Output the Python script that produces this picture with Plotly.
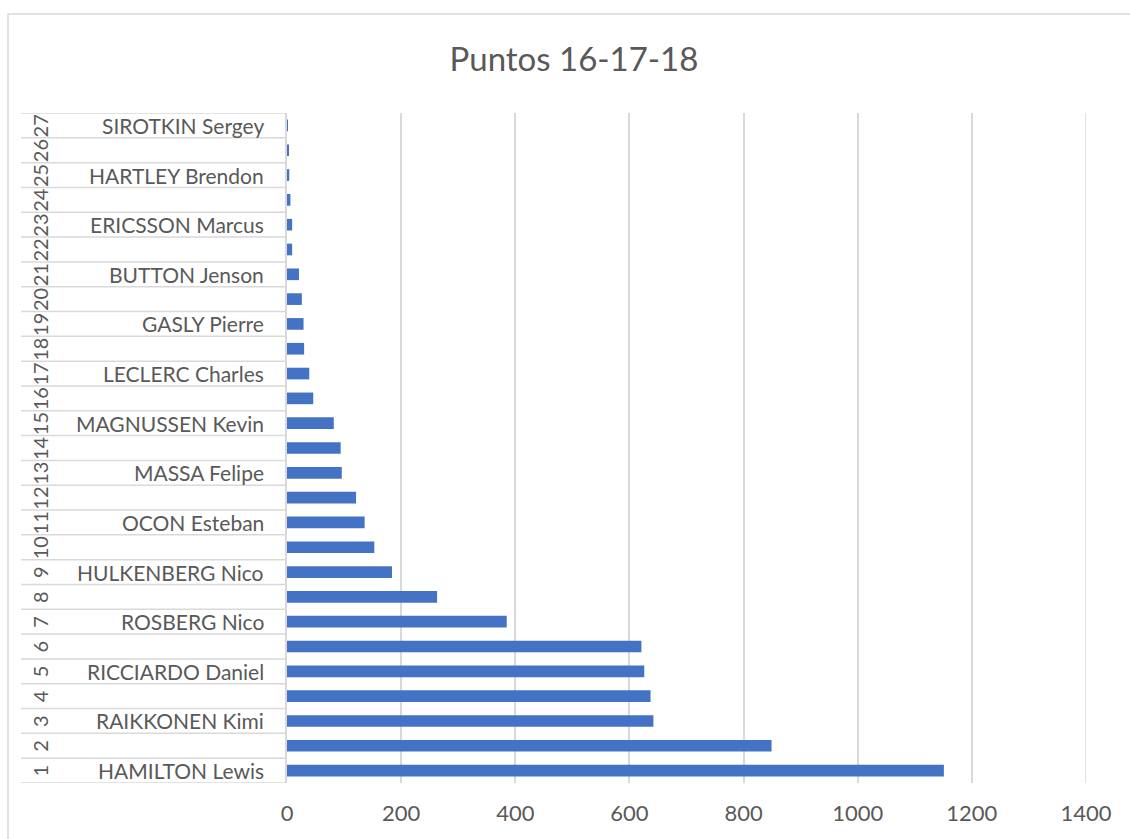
import plotly.graph_objects as go

# Championship points 2016-2018, drivers ordered by rank
ranks = list(range(1, 28))
drivers = [
    "HAMILTON Lewis", "VETTEL Sebastian", "RAIKKONEN Kimi", "BOTTAS Valtteri",
    "RICCIARDO Daniel", "VERSTAPPEN Max", "ROSBERG Nico", "PEREZ Sergio",
    "HULKENBERG Nico", "SAINZ Carlos", "OCON Esteban", "ALONSO Fernando",
    "MASSA Felipe", "GROSJEAN Romain", "MAGNUSSEN Kevin", "STROLL Lance",
    "LECLERC Charles", "KVYAT Daniil", "GASLY Pierre", "VANDOORNE Stoffel",
    "BUTTON Jenson", "PALMER Jolyon", "ERICSSON Marcus", "WEHRLEIN Pascal",
    "HARTLEY Brendon", "NASR Felipe", "SIROTKIN Sergey",
]
points = [1151, 849, 642, 637, 626, 621, 385, 263, 184, 153, 136, 121, 96, 94,
          82, 46, 39, 30, 29, 26, 21, 9, 9, 6, 4, 2, 1]
x_ticks = [0, 200, 400, 600, 800, 1000, 1200, 1400]

W, H = 1130, 839
L, R, T, B = 287, 44, 113, 56
plot_w = W - L - R
plot_h = H - T - B

def px_to_paper_x(px):
    return (px - L) / plot_w

def px_to_paper_y(py):
    return 1 - (py - T) / plot_h

GRID = "#d9d9d9"
TEXT = "#595959"
FONT = "Lato"

fig = go.Figure(
    go.Bar(
        x=points,
        y=ranks,
        orientation="h",
        width=0.47,
        marker=dict(color="#4472c4", line=dict(width=0)),
        hovertext=drivers,
    )
)

shapes = []
# outer chart-area frame
shapes.append(dict(
    type="rect", xref="paper", yref="paper",
    x0=px_to_paper_x(8), x1=px_to_paper_x(1160),
    y0=px_to_paper_y(860), y1=px_to_paper_y(14),
    line=dict(color=GRID, width=1.5), fillcolor="rgba(0,0,0,0)",
    layer="below",
))
# closing gridline at the axis maximum
shapes.append(dict(
    type="line", xref="x", yref="paper",
    x0=x_ticks[-1], x1=x_ticks[-1], y0=0, y1=1,
    line=dict(color=GRID, width=1.5), layer="below",
))
# category table rows on the left
for k in range(0, len(ranks) + 1):
    shapes.append(dict(
        type="line", xref="paper", yref="y",
        x0=px_to_paper_x(21), x1=0,
        y0=k + 0.5, y1=k + 0.5,
        line=dict(color=GRID, width=1.5),
    ))

annotations = []
for r, name in zip(ranks, drivers):
    annotations.append(dict(
        xref="paper", yref="y", x=px_to_paper_x(40), y=r,
        text=str(r), showarrow=False, textangle=-90,
        xanchor="center", yanchor="middle",
        font=dict(family=FONT, size=20, color=TEXT),
    ))
    if r % 2 == 1:
        annotations.append(dict(
            xref="paper", yref="y", x=px_to_paper_x(266), y=r,
            text=name, showarrow=False,
            xanchor="right", yanchor="middle",
            font=dict(family=FONT, size=21, color=TEXT),
        ))

fig.update_layout(
    width=W, height=H,
    margin=dict(l=L, r=R, t=T, b=B),
    paper_bgcolor="white", plot_bgcolor="white",
    showlegend=False,
    title=dict(
        text="Puntos 16-17-18", xref="container", yref="container",
        x=574 / W, y=1 - 59 / H, xanchor="center", yanchor="middle",
        font=dict(family=FONT, size=33, color=TEXT),
    ),
    xaxis=dict(
        range=[0, 1400], tickvals=x_ticks, showgrid=True,
        gridcolor=GRID, gridwidth=1.5, zeroline=False, showline=False,
        tickfont=dict(family=FONT, size=22, color=TEXT),
        ticklabelstandoff=15,
    ),
    yaxis=dict(
        range=[0.5, len(ranks) + 0.5], showticklabels=False,
        showgrid=False, zeroline=False,
        showline=True, linecolor=GRID, linewidth=1.5,
    ),
    shapes=shapes,
    annotations=annotations,
)

fig.write_html("out.html")
